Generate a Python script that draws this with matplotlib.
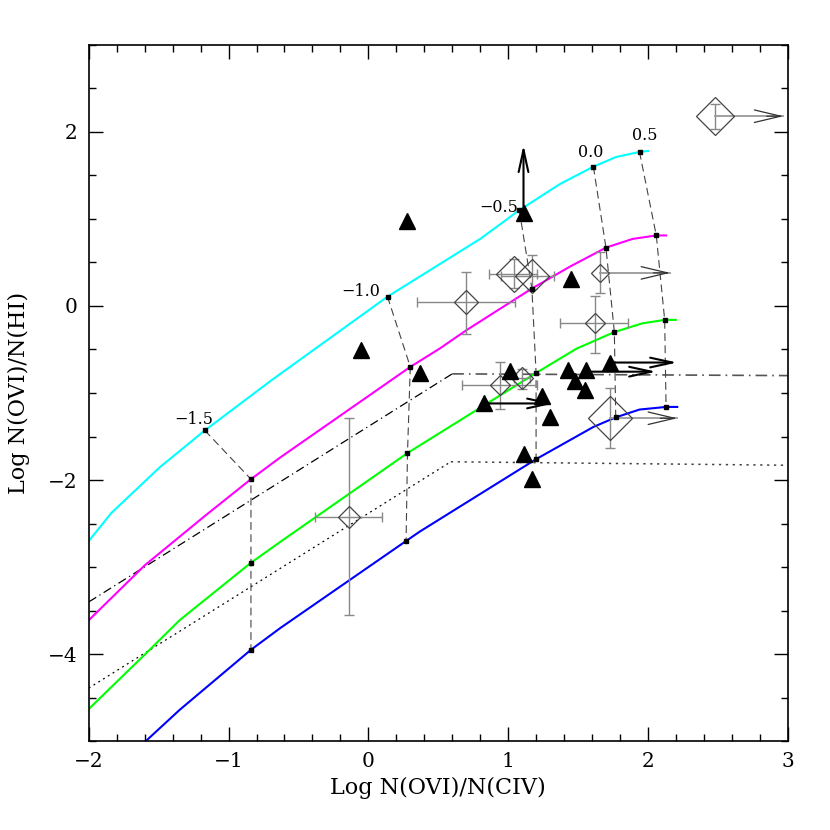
import matplotlib as mpl
mpl.use('Agg')
import matplotlib.pyplot as plt
from matplotlib.ticker import MultipleLocator
import numpy as np

plt.rcParams['font.family'] = ['DejaVu Serif']
plt.rcParams['mathtext.fontset'] = 'dejavuserif'

# model tracks, x = log N(OVI)/N(CIV), y = log N(OVI)/N(HI)
cyan_x = [-2.0, -1.84, -1.49, -1.17, -0.69, 0.137, 0.80, 1.08, 1.37, 1.61, 1.77, 1.94, 2.0]
cyan_y = [-2.70, -2.38, -1.85, -1.43, -0.85, 0.107, 0.77, 1.10, 1.40, 1.60, 1.71, 1.77, 1.78]
magenta_x = [-2.0, -1.60, -1.16, -0.84, -0.63, 0.30, 0.51, 0.70, 1.17, 1.44, 1.70, 1.89, 2.06, 2.13]
magenta_y = [-3.61, -2.98, -2.40, -1.99, -1.74, -0.70, -0.49, -0.28, 0.20, 0.45, 0.67, 0.77, 0.81, 0.81]
green_x = [-2.0, -1.59, -1.35, -0.84, -0.63, 0.28, 0.58, 1.20, 1.49, 1.76, 1.96, 2.12, 2.20]
green_y = [-4.63, -3.99, -3.61, -2.95, -2.71, -1.69, -1.39, -0.77, -0.49, -0.30, -0.20, -0.16, -0.16]
blue_x = [-1.62, -1.35, -0.84, -0.63, 0.27, 0.37, 1.20, 1.61, 1.77, 1.94, 2.13, 2.21]
blue_y = [-5.04, -4.64, -3.95, -3.70, -2.70, -2.59, -1.76, -1.39, -1.28, -1.19, -1.16, -1.16]

# marked points along the tracks
mark_labels = ['\u22121.5', '\u22121.0', '\u22120.5', '0.0', '0.5']
mark_cyan_x = [-1.17, 0.137, 1.08, 1.61, 1.94]
mark_cyan_y = [-1.43, 0.107, 1.10, 1.60, 1.77]
mark_magenta_x = [-0.84, 0.30, 1.17, 1.70, 2.06]
mark_magenta_y = [-1.99, -0.70, 0.20, 0.67, 0.81]
mark_green_x = [-0.84, 0.28, 1.20, 1.76, 2.12]
mark_green_y = [-2.95, -1.69, -0.77, -0.30, -0.16]
mark_blue_x = [-0.84, 0.27, 1.20, 1.77, 2.13]
mark_blue_y = [-3.95, -2.70, -1.76, -1.28, -1.16]

# dash-dot and dotted limit lines
dashdot_x = [-2.0, 0.60, 3.0]
dashdot_y = [-3.40, -0.78, -0.80]
dotted_x = [-2.0, 0.59, 3.0]
dotted_y = [-4.39, -1.79, -1.83]

# filled triangles
tri_x = [1.11, 0.28, -0.05, 0.37, 1.45, 1.01, 0.83, 1.24, 1.30, 1.43, 1.56, 1.48, 1.55, 1.73, 1.11, 1.17]
tri_y = [1.07, 0.98, -0.51, -0.77, 0.31, -0.75, -1.12, -1.03, -1.28, -0.74, -0.74, -0.86, -0.97, -0.65, -1.70, -1.99]
# limit arrows on triangles: (x, y, x_end, y_end)
tri_arrows = [(1.11, 1.07, 1.11, 1.85),
              (0.83, -1.12, 1.33, -1.12),
              (1.56, -0.755, 2.06, -0.755),
              (1.73, -0.65, 2.21, -0.65)]

# open diamonds with error bars
dia_x = [0.70, 1.04, 1.17, 1.66, 1.62, 0.94, 1.10, 1.73, -0.14, 2.48]
dia_y = [0.04, 0.37, 0.34, 0.38, -0.20, -0.91, -0.83, -1.29, -2.42, 2.18]
dia_size = [12, 18, 16.5, 9, 10, 10, 11, 22, 11, 19]
dia_xlo = [0.35, 0.86, 0.95, None, 1.37, 0.67, 1.04, None, -0.38, None]
dia_xhi = [1.05, 1.21, 1.33, None, 1.86, 1.21, 1.16, None, 0.10, None]
dia_ylo = [-0.32, 0.21, 0.20, 0.15, -0.54, -1.18, -0.95, -1.63, -3.55, 2.03]
dia_yhi = [0.39, 0.54, 0.59, 0.62, 0.11, -0.64, -0.72, -0.94, -1.29, 2.32]
dia_arrow_to = [None, None, None, 2.16, None, None, None, 2.21, None, 2.97]

fig = plt.figure(figsize=(8.3, 8.3), dpi=100)
ax = fig.add_axes([0.107, 0.107, 0.842, 0.839])

# limit lines
ax.plot(dashdot_x[:2], dashdot_y[:2], color='k', lw=0.9, dashes=(7, 3, 1, 3))
ax.plot(dashdot_x[1:], dashdot_y[1:], color='#555555', lw=1.2, dashes=(7, 3, 1, 3))
ax.plot(dotted_x[:2], dotted_y[:2], color='k', lw=0.9, dashes=(1.5, 3))
ax.plot(dotted_x[1:], dotted_y[1:], color='#444444', lw=1.1, dashes=(1.5, 3))

# connectors between the marked points
for i in range(len(mark_labels)):
    cx = [mark_cyan_x[i], mark_magenta_x[i], mark_green_x[i], mark_blue_x[i]]
    cy = [mark_cyan_y[i], mark_magenta_y[i], mark_green_y[i], mark_blue_y[i]]
    ax.plot(cx, cy, color='#444444', lw=0.8, dashes=(7, 4))

# model tracks
for tx, ty, c in [(cyan_x, cyan_y, '#00ffff'), (magenta_x, magenta_y, '#ff00ff'),
                  (green_x, green_y, '#00ff00'), (blue_x, blue_y, '#0000ff')]:
    ax.plot(tx, ty, color=c, lw=1.5, solid_joinstyle='round')

for mx, my in [(mark_cyan_x, mark_cyan_y), (mark_magenta_x, mark_magenta_y),
               (mark_green_x, mark_green_y), (mark_blue_x, mark_blue_y)]:
    ax.plot(mx, my, 's', color='k', ms=3.5, zorder=5)

# labels of the marked points (offsets in points)
label_offsets = [(-8, 8), (-19, 4), (-15, 2), (-2, 10), (4, 12)]
for i, lab in enumerate(mark_labels):
    ax.annotate(lab, (mark_cyan_x[i], mark_cyan_y[i]), xytext=label_offsets[i],
                textcoords='offset points', ha='center', va='center', fontsize=11.5)

# diamonds with error bars
for i in range(len(dia_x)):
    if dia_xlo[i] is not None:
        ax.errorbar([dia_x[i]], [dia_y[i]],
                    xerr=[[dia_x[i] - dia_xlo[i]], [dia_xhi[i] - dia_x[i]]],
                    fmt='none', ecolor='#888888', elinewidth=1.0, capsize=3.5, zorder=3)
    ax.errorbar([dia_x[i]], [dia_y[i]],
                yerr=[[dia_y[i] - dia_ylo[i]], [dia_yhi[i] - dia_y[i]]],
                fmt='none', ecolor='#888888', elinewidth=1.0, capsize=3.5, zorder=3)
    if dia_arrow_to[i] is not None:
        ax.plot([dia_x[i], dia_arrow_to[i]], [dia_y[i], dia_y[i]], color='#999999', lw=1.3, zorder=3)
        ax.annotate('', xy=(dia_arrow_to[i], dia_y[i]), xytext=(dia_arrow_to[i] - 0.12, dia_y[i]),
                    arrowprops=dict(arrowstyle='->,head_length=1.9,head_width=0.45',
                                    color='#333333', lw=0.9, shrinkA=0, shrinkB=0), zorder=4)
    ax.plot([dia_x[i]], [dia_y[i]], 'D', ms=dia_size[i] / 0.982, mfc='none',
            mec='#444444', mew=0.9, zorder=4)

# triangles and their limit arrows
for x0, y0, x1, y1 in tri_arrows:
    ax.annotate('', xy=(x1, y1), xytext=(x0, y0),
                arrowprops=dict(arrowstyle='->,head_length=1.6,head_width=0.35',
                                color='k', lw=1.5, shrinkA=0, shrinkB=0), zorder=6)
ax.plot(tri_x, tri_y, '^', color='k', ms=11, zorder=6)

ax.set_xlim(-2, 3)
ax.set_ylim(-5, 3)
ax.xaxis.set_major_locator(MultipleLocator(1))
ax.xaxis.set_minor_locator(MultipleLocator(0.2))
ax.yaxis.set_major_locator(MultipleLocator(2))
ax.yaxis.set_minor_locator(MultipleLocator(0.5))
ax.tick_params(which='both', direction='in', top=True, right=True, labelsize=14.5, width=1.0)
ax.tick_params(which='major', length=10, pad=8)
ax.tick_params(which='minor', length=5)
for s in ax.spines.values():
    s.set_linewidth(1.2)

ax.set_xlabel('Log N(OVI)/N(CIV)', fontsize=16, labelpad=4)
ax.set_ylabel('Log N(OVI)/N(HI)', fontsize=16, labelpad=13)

plt.savefig('out.png', dpi=100)
